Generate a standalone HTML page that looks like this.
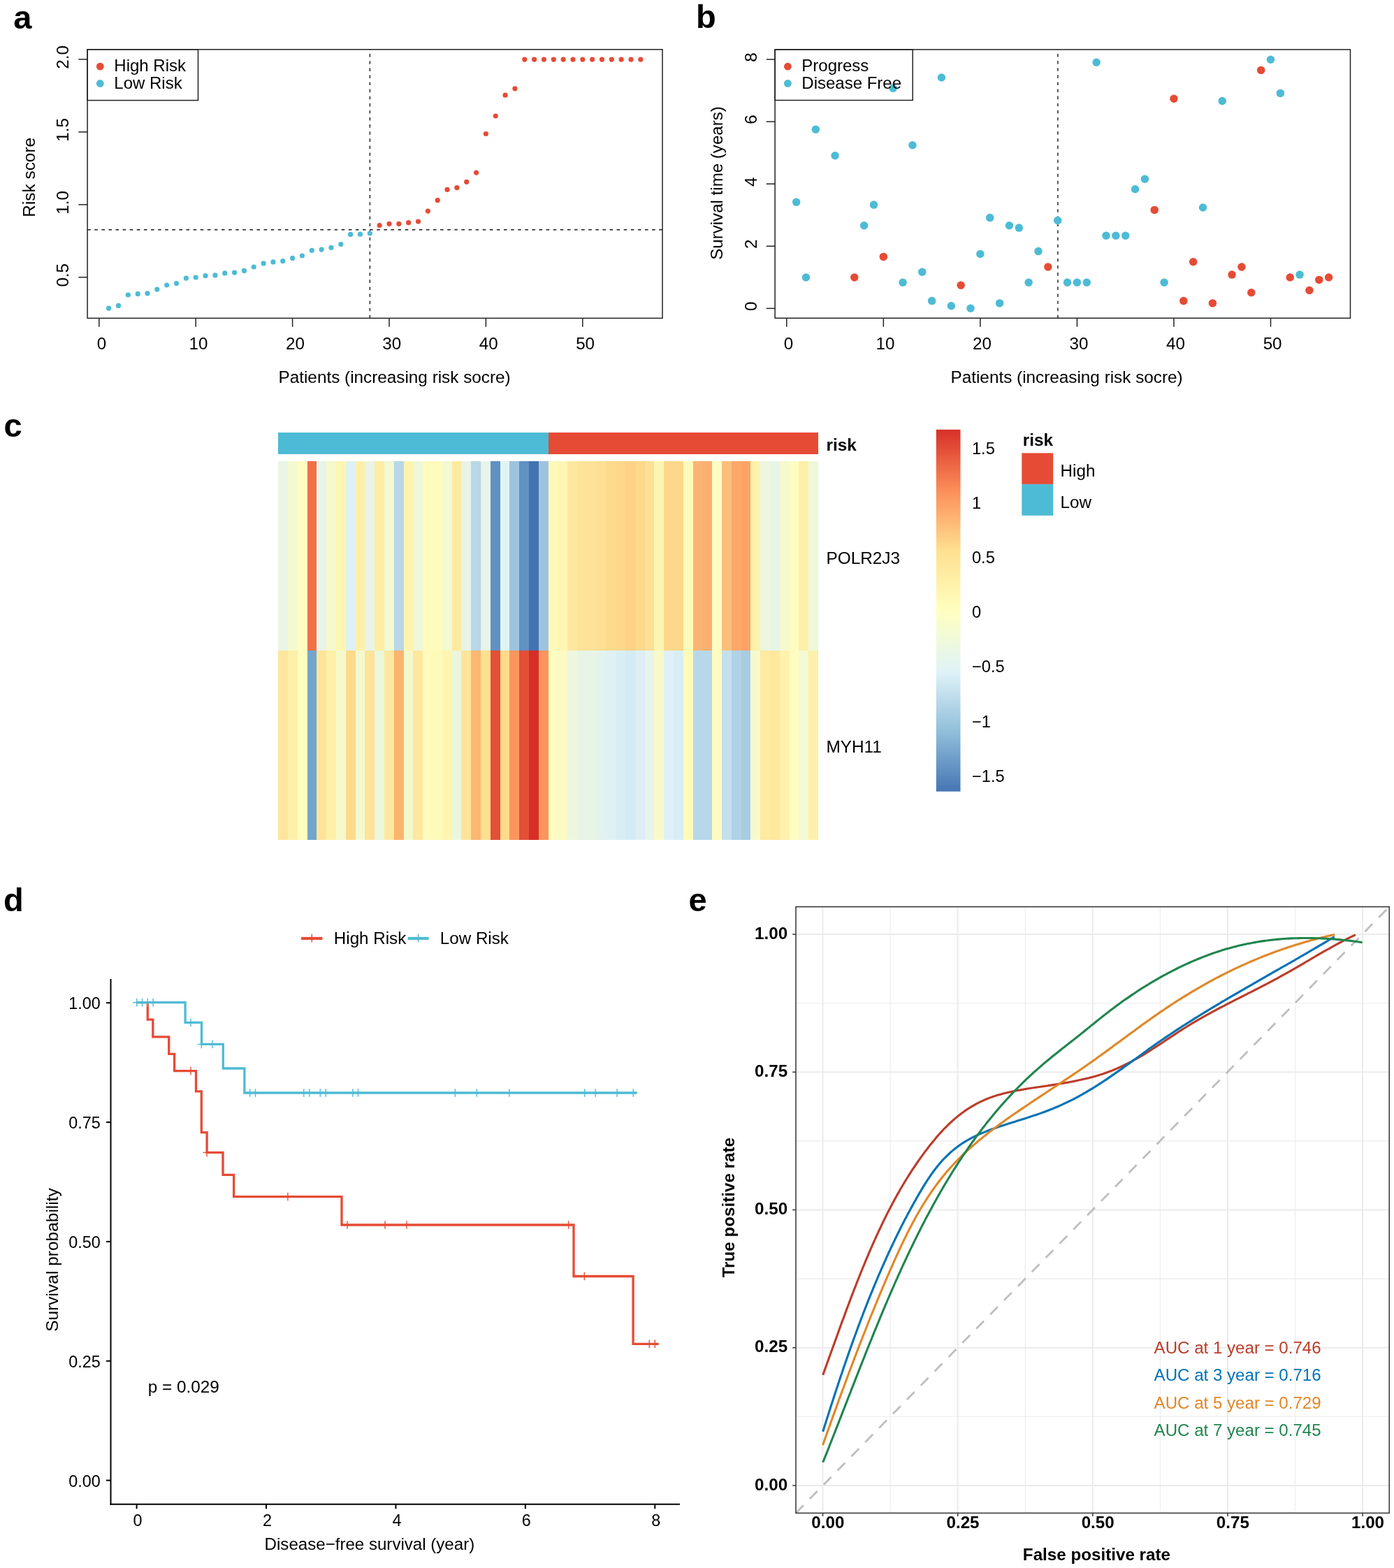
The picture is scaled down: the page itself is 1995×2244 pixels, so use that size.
<!DOCTYPE html>
<html lang="en"><head><meta charset="utf-8"><title>Figure</title>
<style>
html,body{margin:0;padding:0;background:#fff;}
body{width:1995px;height:2244px;overflow:hidden;}
svg{display:block;font-family:'Liberation Sans', Arial, Helvetica, sans-serif;}

</style></head>
<body>
<svg width="1995" height="2244" viewBox="0 0 1995 2244">
<rect width="1995" height="2244" fill="#fff"/>
<text x="19.2" y="40.5" font-size="47" font-weight="bold">a</text>
<text x="995.9" y="40.4" font-size="47" font-weight="bold">b</text>
<text x="5.5" y="625.3" font-size="47" font-weight="bold">c</text>
<text x="5" y="1303.6" font-size="47" font-weight="bold">d</text>
<text x="985.5" y="1304.2" font-size="47" font-weight="bold">e</text>
<g id="pa">
<line x1="125.1" y1="328.8" x2="948" y2="328.8" stroke="#1a1a1a" stroke-width="1.4" stroke-dasharray="4.6 5.5"/>
<line x1="529.4" y1="455.4" x2="529.4" y2="70.8" stroke="#1a1a1a" stroke-width="1.4" stroke-dasharray="4.6 5.5"/>
<circle cx="155.64" cy="441.2" r="3.6" fill="#4DBBD5"/>
<circle cx="169.48" cy="437.4" r="3.6" fill="#4DBBD5"/>
<circle cx="183.32" cy="422" r="3.6" fill="#4DBBD5"/>
<circle cx="197.16" cy="420.6" r="3.6" fill="#4DBBD5"/>
<circle cx="211" cy="419.8" r="3.6" fill="#4DBBD5"/>
<circle cx="224.84" cy="414.1" r="3.6" fill="#4DBBD5"/>
<circle cx="238.68" cy="408" r="3.6" fill="#4DBBD5"/>
<circle cx="252.52" cy="405.6" r="3.6" fill="#4DBBD5"/>
<circle cx="266.36" cy="398.2" r="3.6" fill="#4DBBD5"/>
<circle cx="280.2" cy="397" r="3.6" fill="#4DBBD5"/>
<circle cx="294.04" cy="394.7" r="3.6" fill="#4DBBD5"/>
<circle cx="307.88" cy="393.9" r="3.6" fill="#4DBBD5"/>
<circle cx="321.72" cy="390.9" r="3.6" fill="#4DBBD5"/>
<circle cx="335.56" cy="390.1" r="3.6" fill="#4DBBD5"/>
<circle cx="349.4" cy="387.4" r="3.6" fill="#4DBBD5"/>
<circle cx="363.24" cy="382" r="3.6" fill="#4DBBD5"/>
<circle cx="377.08" cy="376.9" r="3.6" fill="#4DBBD5"/>
<circle cx="390.92" cy="374.9" r="3.6" fill="#4DBBD5"/>
<circle cx="404.76" cy="373.6" r="3.6" fill="#4DBBD5"/>
<circle cx="418.6" cy="369.4" r="3.6" fill="#4DBBD5"/>
<circle cx="432.44" cy="366" r="3.6" fill="#4DBBD5"/>
<circle cx="446.28" cy="358.3" r="3.6" fill="#4DBBD5"/>
<circle cx="460.12" cy="357.1" r="3.6" fill="#4DBBD5"/>
<circle cx="473.96" cy="354.3" r="3.6" fill="#4DBBD5"/>
<circle cx="487.8" cy="349.6" r="3.6" fill="#4DBBD5"/>
<circle cx="501.64" cy="335.4" r="3.6" fill="#4DBBD5"/>
<circle cx="515.48" cy="335.2" r="3.6" fill="#4DBBD5"/>
<circle cx="529.32" cy="334" r="3.6" fill="#4DBBD5"/>
<circle cx="543.16" cy="322.5" r="3.6" fill="#E64B35"/>
<circle cx="557" cy="320.3" r="3.6" fill="#E64B35"/>
<circle cx="570.84" cy="320.3" r="3.6" fill="#E64B35"/>
<circle cx="584.68" cy="318.7" r="3.6" fill="#E64B35"/>
<circle cx="598.52" cy="317" r="3.6" fill="#E64B35"/>
<circle cx="612.36" cy="302.1" r="3.6" fill="#E64B35"/>
<circle cx="626.2" cy="286.7" r="3.6" fill="#E64B35"/>
<circle cx="640.04" cy="271.3" r="3.6" fill="#E64B35"/>
<circle cx="653.88" cy="268.6" r="3.6" fill="#E64B35"/>
<circle cx="667.72" cy="260.3" r="3.6" fill="#E64B35"/>
<circle cx="681.56" cy="247.1" r="3.6" fill="#E64B35"/>
<circle cx="695.4" cy="191.5" r="3.6" fill="#E64B35"/>
<circle cx="709.24" cy="166" r="3.6" fill="#E64B35"/>
<circle cx="723.08" cy="136.2" r="3.6" fill="#E64B35"/>
<circle cx="736.92" cy="126.8" r="3.6" fill="#E64B35"/>
<circle cx="750.76" cy="85.1" r="3.6" fill="#E64B35"/>
<circle cx="764.6" cy="85.1" r="3.6" fill="#E64B35"/>
<circle cx="778.44" cy="85.1" r="3.6" fill="#E64B35"/>
<circle cx="792.28" cy="85.1" r="3.6" fill="#E64B35"/>
<circle cx="806.12" cy="85.1" r="3.6" fill="#E64B35"/>
<circle cx="819.96" cy="85.1" r="3.6" fill="#E64B35"/>
<circle cx="833.8" cy="85.1" r="3.6" fill="#E64B35"/>
<circle cx="847.64" cy="85.1" r="3.6" fill="#E64B35"/>
<circle cx="861.48" cy="85.1" r="3.6" fill="#E64B35"/>
<circle cx="875.32" cy="85.1" r="3.6" fill="#E64B35"/>
<circle cx="889.16" cy="85.1" r="3.6" fill="#E64B35"/>
<circle cx="903" cy="85.1" r="3.6" fill="#E64B35"/>
<circle cx="916.84" cy="85.1" r="3.6" fill="#E64B35"/>
<rect x="125.1" y="70.8" width="158.4" height="72.8" fill="#fff" stroke="#222" stroke-width="1.5"/>
<circle cx="143.3" cy="95.1" r="5.4" fill="#E64B35"/>
<circle cx="143.3" cy="119.5" r="5.4" fill="#4DBBD5"/>
<text x="163.3" y="102.4" font-size="24">High Risk</text>
<text x="163.3" y="126.8" font-size="24">Low Risk</text>
<rect x="125.1" y="70.8" width="822.9" height="384.6" fill="none" stroke="#222" stroke-width="1.5"/>
<line x1="141.8" y1="455.4" x2="141.8" y2="467.8" stroke="#222" stroke-width="1.5"/>
<text x="145.6" y="499.6" font-size="24.2" text-anchor="middle">0</text>
<line x1="280.2" y1="455.4" x2="280.2" y2="467.8" stroke="#222" stroke-width="1.5"/>
<text x="284" y="499.6" font-size="24.2" text-anchor="middle">10</text>
<line x1="418.6" y1="455.4" x2="418.6" y2="467.8" stroke="#222" stroke-width="1.5"/>
<text x="422.4" y="499.6" font-size="24.2" text-anchor="middle">20</text>
<line x1="557" y1="455.4" x2="557" y2="467.8" stroke="#222" stroke-width="1.5"/>
<text x="560.8" y="499.6" font-size="24.2" text-anchor="middle">30</text>
<line x1="695.4" y1="455.4" x2="695.4" y2="467.8" stroke="#222" stroke-width="1.5"/>
<text x="699.2" y="499.6" font-size="24.2" text-anchor="middle">40</text>
<line x1="833.8" y1="455.4" x2="833.8" y2="467.8" stroke="#222" stroke-width="1.5"/>
<text x="837.6" y="499.6" font-size="24.2" text-anchor="middle">50</text>
<line x1="112.3" y1="396.79" x2="125.1" y2="396.79" stroke="#222" stroke-width="1.5"/>
<text transform="translate(97.7 393.79) rotate(-90)" font-size="24.2" text-anchor="middle">0.5</text>
<line x1="112.3" y1="292.83" x2="125.1" y2="292.83" stroke="#222" stroke-width="1.5"/>
<text transform="translate(97.7 289.83) rotate(-90)" font-size="24.2" text-anchor="middle">1.0</text>
<line x1="112.3" y1="188.87" x2="125.1" y2="188.87" stroke="#222" stroke-width="1.5"/>
<text transform="translate(97.7 185.87) rotate(-90)" font-size="24.2" text-anchor="middle">1.5</text>
<line x1="112.3" y1="84.9" x2="125.1" y2="84.9" stroke="#222" stroke-width="1.5"/>
<text transform="translate(97.7 81.9) rotate(-90)" font-size="24.2" text-anchor="middle">2.0</text>
<text x="564.6" y="547.5" font-size="24.3" text-anchor="middle">Patients (increasing risk socre)</text>
<text transform="translate(49.6 253.8) rotate(-90)" font-size="24.4" text-anchor="middle">Risk score</text>
</g>
<g id="pb">
<line x1="1513.9" y1="455.3" x2="1513.9" y2="70.9" stroke="#1a1a1a" stroke-width="1.4" stroke-dasharray="4.6 5.5"/>
<circle cx="1139.65" cy="289.2" r="5.75" fill="#4DBBD5"/>
<circle cx="1153.51" cy="397" r="5.75" fill="#4DBBD5"/>
<circle cx="1167.36" cy="185.3" r="5.75" fill="#4DBBD5"/>
<circle cx="1195.07" cy="222.7" r="5.75" fill="#4DBBD5"/>
<circle cx="1222.78" cy="397" r="5.75" fill="#E64B35"/>
<circle cx="1236.63" cy="322.7" r="5.75" fill="#4DBBD5"/>
<circle cx="1250.49" cy="293.1" r="5.75" fill="#4DBBD5"/>
<circle cx="1264.34" cy="367.4" r="5.75" fill="#E64B35"/>
<circle cx="1292.05" cy="404.3" r="5.75" fill="#4DBBD5"/>
<circle cx="1305.9" cy="207.7" r="5.75" fill="#4DBBD5"/>
<circle cx="1319.76" cy="389.2" r="5.75" fill="#4DBBD5"/>
<circle cx="1333.61" cy="430.6" r="5.75" fill="#4DBBD5"/>
<circle cx="1347.46" cy="111" r="5.75" fill="#4DBBD5"/>
<circle cx="1361.32" cy="437.8" r="5.75" fill="#4DBBD5"/>
<circle cx="1375.17" cy="408.2" r="5.75" fill="#E64B35"/>
<circle cx="1389.03" cy="441.2" r="5.75" fill="#4DBBD5"/>
<circle cx="1402.88" cy="363.5" r="5.75" fill="#4DBBD5"/>
<circle cx="1416.73" cy="311.6" r="5.75" fill="#4DBBD5"/>
<circle cx="1430.59" cy="433.9" r="5.75" fill="#4DBBD5"/>
<circle cx="1444.44" cy="322.7" r="5.75" fill="#4DBBD5"/>
<circle cx="1458.3" cy="326.1" r="5.75" fill="#4DBBD5"/>
<circle cx="1472.15" cy="404.3" r="5.75" fill="#4DBBD5"/>
<circle cx="1486" cy="359.6" r="5.75" fill="#4DBBD5"/>
<circle cx="1499.86" cy="382" r="5.75" fill="#E64B35"/>
<circle cx="1513.71" cy="315.5" r="5.75" fill="#4DBBD5"/>
<circle cx="1527.57" cy="404.3" r="5.75" fill="#4DBBD5"/>
<circle cx="1541.42" cy="404.3" r="5.75" fill="#4DBBD5"/>
<circle cx="1555.27" cy="404.3" r="5.75" fill="#4DBBD5"/>
<circle cx="1569.13" cy="89.2" r="5.75" fill="#4DBBD5"/>
<circle cx="1582.98" cy="337.3" r="5.75" fill="#4DBBD5"/>
<circle cx="1596.84" cy="337.3" r="5.75" fill="#4DBBD5"/>
<circle cx="1610.69" cy="337.3" r="5.75" fill="#4DBBD5"/>
<circle cx="1624.54" cy="270.8" r="5.75" fill="#4DBBD5"/>
<circle cx="1638.4" cy="256.3" r="5.75" fill="#4DBBD5"/>
<circle cx="1652.25" cy="300.4" r="5.75" fill="#E64B35"/>
<circle cx="1666.11" cy="404.3" r="5.75" fill="#4DBBD5"/>
<circle cx="1679.96" cy="141.2" r="5.75" fill="#E64B35"/>
<circle cx="1693.81" cy="430.6" r="5.75" fill="#E64B35"/>
<circle cx="1707.67" cy="374.7" r="5.75" fill="#E64B35"/>
<circle cx="1721.52" cy="297" r="5.75" fill="#4DBBD5"/>
<circle cx="1735.38" cy="433.9" r="5.75" fill="#E64B35"/>
<circle cx="1749.23" cy="144.5" r="5.75" fill="#4DBBD5"/>
<circle cx="1763.08" cy="393.1" r="5.75" fill="#E64B35"/>
<circle cx="1776.94" cy="382" r="5.75" fill="#E64B35"/>
<circle cx="1790.79" cy="418.8" r="5.75" fill="#E64B35"/>
<circle cx="1804.65" cy="100.4" r="5.75" fill="#E64B35"/>
<circle cx="1818.5" cy="85.3" r="5.75" fill="#4DBBD5"/>
<circle cx="1832.35" cy="133.4" r="5.75" fill="#4DBBD5"/>
<circle cx="1846.21" cy="397" r="5.75" fill="#E64B35"/>
<circle cx="1860.06" cy="393.1" r="5.75" fill="#4DBBD5"/>
<circle cx="1873.92" cy="415.5" r="5.75" fill="#E64B35"/>
<circle cx="1887.77" cy="400.4" r="5.75" fill="#E64B35"/>
<circle cx="1901.62" cy="397" r="5.75" fill="#E64B35"/>
<rect x="1109.1" y="70.9" width="197.1" height="72.6" fill="#fff" stroke="#222" stroke-width="1.5"/>
<circle cx="1278.19" cy="126.2" r="5.75" fill="#4DBBD5"/>
<circle cx="1127.4" cy="95.2" r="5.4" fill="#E64B35"/>
<circle cx="1127.4" cy="119.4" r="5.4" fill="#4DBBD5"/>
<text x="1147.3" y="102.4" font-size="24">Progress</text>
<text x="1147.3" y="126.6" font-size="24">Disease Free</text>
<rect x="1109.1" y="70.9" width="823.4" height="384.4" fill="none" stroke="#222" stroke-width="1.5"/>
<line x1="1125.8" y1="455.3" x2="1125.8" y2="467.7" stroke="#222" stroke-width="1.5"/>
<text x="1128.4" y="499.6" font-size="24.2" text-anchor="middle">0</text>
<line x1="1264.34" y1="455.3" x2="1264.34" y2="467.7" stroke="#222" stroke-width="1.5"/>
<text x="1266.94" y="499.6" font-size="24.2" text-anchor="middle">10</text>
<line x1="1402.88" y1="455.3" x2="1402.88" y2="467.7" stroke="#222" stroke-width="1.5"/>
<text x="1405.48" y="499.6" font-size="24.2" text-anchor="middle">20</text>
<line x1="1541.42" y1="455.3" x2="1541.42" y2="467.7" stroke="#222" stroke-width="1.5"/>
<text x="1544.02" y="499.6" font-size="24.2" text-anchor="middle">30</text>
<line x1="1679.96" y1="455.3" x2="1679.96" y2="467.7" stroke="#222" stroke-width="1.5"/>
<text x="1682.56" y="499.6" font-size="24.2" text-anchor="middle">40</text>
<line x1="1818.5" y1="455.3" x2="1818.5" y2="467.7" stroke="#222" stroke-width="1.5"/>
<text x="1821.1" y="499.6" font-size="24.2" text-anchor="middle">50</text>
<line x1="1096.7" y1="441.4" x2="1109.1" y2="441.4" stroke="#222" stroke-width="1.5"/>
<text transform="translate(1082.8 438.4) rotate(-90)" font-size="24.2" text-anchor="middle">0</text>
<line x1="1096.7" y1="352.3" x2="1109.1" y2="352.3" stroke="#222" stroke-width="1.5"/>
<text transform="translate(1082.8 349.3) rotate(-90)" font-size="24.2" text-anchor="middle">2</text>
<line x1="1096.7" y1="263.2" x2="1109.1" y2="263.2" stroke="#222" stroke-width="1.5"/>
<text transform="translate(1082.8 260.2) rotate(-90)" font-size="24.2" text-anchor="middle">4</text>
<line x1="1096.7" y1="174.1" x2="1109.1" y2="174.1" stroke="#222" stroke-width="1.5"/>
<text transform="translate(1082.8 171.1) rotate(-90)" font-size="24.2" text-anchor="middle">6</text>
<line x1="1096.7" y1="85" x2="1109.1" y2="85" stroke="#222" stroke-width="1.5"/>
<text transform="translate(1082.8 82) rotate(-90)" font-size="24.2" text-anchor="middle">8</text>
<text x="1526.6" y="547.5" font-size="24.3" text-anchor="middle">Patients (increasing risk socre)</text>
<text transform="translate(1033.5 262) rotate(-90)" font-size="24.1" text-anchor="middle">Survival time (years)</text>
</g>
<g id="pc" shape-rendering="crispEdges">
<rect x="398.1" y="618.5" width="386.45" height="31.2" fill="#4DBBD5"/>
<rect x="784.55" y="618.5" width="386.45" height="31.2" fill="#E64B35"/>
<rect x="398.1" y="660" width="14.2" height="270.7" fill="#EAF5E6"/>
<rect x="398.1" y="930.7" width="14.2" height="270.8" fill="#FDE59C"/>
<rect x="411.9" y="660" width="14.2" height="270.7" fill="#F5F9D0"/>
<rect x="411.9" y="930.7" width="14.2" height="270.8" fill="#FEF0A8"/>
<rect x="425.7" y="660" width="14.2" height="270.7" fill="#FEFCC0"/>
<rect x="425.7" y="930.7" width="14.2" height="270.8" fill="#FFFCBD"/>
<rect x="439.51" y="660" width="14.2" height="270.7" fill="#F07049"/>
<rect x="439.51" y="930.7" width="14.2" height="270.8" fill="#74A5CD"/>
<rect x="453.31" y="660" width="14.2" height="270.7" fill="#E8F4E8"/>
<rect x="453.31" y="930.7" width="14.2" height="270.8" fill="#FEE49A"/>
<rect x="467.11" y="660" width="14.2" height="270.7" fill="#F5F9CC"/>
<rect x="467.11" y="930.7" width="14.2" height="270.8" fill="#FEF0A8"/>
<rect x="480.91" y="660" width="14.2" height="270.7" fill="#FEF5B0"/>
<rect x="480.91" y="930.7" width="14.2" height="270.8" fill="#F5F9CC"/>
<rect x="494.71" y="660" width="14.2" height="270.7" fill="#DFF1F6"/>
<rect x="494.71" y="930.7" width="14.2" height="270.8" fill="#FEDB8A"/>
<rect x="508.51" y="660" width="14.2" height="270.7" fill="#FEF0A8"/>
<rect x="508.51" y="930.7" width="14.2" height="270.8" fill="#F3F9D0"/>
<rect x="522.32" y="660" width="14.2" height="270.7" fill="#E8F4E8"/>
<rect x="522.32" y="930.7" width="14.2" height="270.8" fill="#FEE39A"/>
<rect x="536.12" y="660" width="14.2" height="270.7" fill="#FEEEA4"/>
<rect x="536.12" y="930.7" width="14.2" height="270.8" fill="#ECF6DA"/>
<rect x="549.92" y="660" width="14.2" height="270.7" fill="#F3F9D2"/>
<rect x="549.92" y="930.7" width="14.2" height="270.8" fill="#FEE89F"/>
<rect x="563.72" y="660" width="14.2" height="270.7" fill="#B8D7E8"/>
<rect x="563.72" y="930.7" width="14.2" height="270.8" fill="#FBB46E"/>
<rect x="577.52" y="660" width="14.2" height="270.7" fill="#FEF4AE"/>
<rect x="577.52" y="930.7" width="14.2" height="270.8" fill="#F3F9CC"/>
<rect x="591.33" y="660" width="14.2" height="270.7" fill="#EFF6DA"/>
<rect x="591.33" y="930.7" width="14.2" height="270.8" fill="#FEE89F"/>
<rect x="605.13" y="660" width="14.2" height="270.7" fill="#FEFBBC"/>
<rect x="605.13" y="930.7" width="14.2" height="270.8" fill="#FEFBBC"/>
<rect x="618.93" y="660" width="14.2" height="270.7" fill="#FEFBBC"/>
<rect x="618.93" y="930.7" width="14.2" height="270.8" fill="#FEFABA"/>
<rect x="632.73" y="660" width="14.2" height="270.7" fill="#F3F9D0"/>
<rect x="632.73" y="930.7" width="14.2" height="270.8" fill="#FEF5B0"/>
<rect x="646.53" y="660" width="14.2" height="270.7" fill="#FEEA9F"/>
<rect x="646.53" y="930.7" width="14.2" height="270.8" fill="#ECF6DC"/>
<rect x="660.33" y="660" width="14.2" height="270.7" fill="#E8F4E8"/>
<rect x="660.33" y="930.7" width="14.2" height="270.8" fill="#FEE49A"/>
<rect x="674.14" y="660" width="14.2" height="270.7" fill="#B8D7E8"/>
<rect x="674.14" y="930.7" width="14.2" height="270.8" fill="#FBB773"/>
<rect x="687.94" y="660" width="14.2" height="270.7" fill="#E8F4E8"/>
<rect x="687.94" y="930.7" width="14.2" height="270.8" fill="#FEE090"/>
<rect x="701.74" y="660" width="14.2" height="270.7" fill="#6190C2"/>
<rect x="701.74" y="930.7" width="14.2" height="270.8" fill="#E34F37"/>
<rect x="715.54" y="660" width="14.2" height="270.7" fill="#E0F3F4"/>
<rect x="715.54" y="930.7" width="14.2" height="270.8" fill="#FEDB8A"/>
<rect x="729.34" y="660" width="14.2" height="270.7" fill="#9DC4DF"/>
<rect x="729.34" y="930.7" width="14.2" height="270.8" fill="#FB955E"/>
<rect x="743.14" y="660" width="14.2" height="270.7" fill="#6190C2"/>
<rect x="743.14" y="930.7" width="14.2" height="270.8" fill="#E34F37"/>
<rect x="756.95" y="660" width="14.2" height="270.7" fill="#4473B2"/>
<rect x="756.95" y="930.7" width="14.2" height="270.8" fill="#D62F27"/>
<rect x="770.75" y="660" width="14.2" height="270.7" fill="#9DC4DF"/>
<rect x="770.75" y="930.7" width="14.2" height="270.8" fill="#FB955E"/>
<rect x="784.55" y="660" width="14.2" height="270.7" fill="#FEF9BA"/>
<rect x="784.55" y="930.7" width="14.2" height="270.8" fill="#FEFBC0"/>
<rect x="798.35" y="660" width="14.2" height="270.7" fill="#FEF5B2"/>
<rect x="798.35" y="930.7" width="14.2" height="270.8" fill="#FBF9C4"/>
<rect x="812.15" y="660" width="14.2" height="270.7" fill="#FEE8A0"/>
<rect x="812.15" y="930.7" width="14.2" height="270.8" fill="#EEF6DE"/>
<rect x="825.96" y="660" width="14.2" height="270.7" fill="#FEE298"/>
<rect x="825.96" y="930.7" width="14.2" height="270.8" fill="#E8F4E6"/>
<rect x="839.76" y="660" width="14.2" height="270.7" fill="#FEE298"/>
<rect x="839.76" y="930.7" width="14.2" height="270.8" fill="#E8F4E6"/>
<rect x="853.56" y="660" width="14.2" height="270.7" fill="#FEDF94"/>
<rect x="853.56" y="930.7" width="14.2" height="270.8" fill="#E2F2EE"/>
<rect x="867.36" y="660" width="14.2" height="270.7" fill="#FDDA8C"/>
<rect x="867.36" y="930.7" width="14.2" height="270.8" fill="#DFF1F5"/>
<rect x="881.16" y="660" width="14.2" height="270.7" fill="#FDD78A"/>
<rect x="881.16" y="930.7" width="14.2" height="270.8" fill="#D8EEF4"/>
<rect x="894.96" y="660" width="14.2" height="270.7" fill="#FCD386"/>
<rect x="894.96" y="930.7" width="14.2" height="270.8" fill="#D4EBF3"/>
<rect x="908.77" y="660" width="14.2" height="270.7" fill="#FDD98C"/>
<rect x="908.77" y="930.7" width="14.2" height="270.8" fill="#DDEFF5"/>
<rect x="922.57" y="660" width="14.2" height="270.7" fill="#FEDF94"/>
<rect x="922.57" y="930.7" width="14.2" height="270.8" fill="#E6F4EB"/>
<rect x="936.37" y="660" width="14.2" height="270.7" fill="#FCF5B2"/>
<rect x="936.37" y="930.7" width="14.2" height="270.8" fill="#F8F9C8"/>
<rect x="950.17" y="660" width="14.2" height="270.7" fill="#FDD88A"/>
<rect x="950.17" y="930.7" width="14.2" height="270.8" fill="#DFF1F6"/>
<rect x="963.97" y="660" width="14.2" height="270.7" fill="#FDD88A"/>
<rect x="963.97" y="930.7" width="14.2" height="270.8" fill="#D8EEF4"/>
<rect x="977.77" y="660" width="14.2" height="270.7" fill="#FEFABA"/>
<rect x="977.77" y="930.7" width="14.2" height="270.8" fill="#FEFABA"/>
<rect x="991.58" y="660" width="14.2" height="270.7" fill="#FBB473"/>
<rect x="991.58" y="930.7" width="14.2" height="270.8" fill="#B8D7E9"/>
<rect x="1005.38" y="660" width="14.2" height="270.7" fill="#FBB070"/>
<rect x="1005.38" y="930.7" width="14.2" height="270.8" fill="#B8D7E9"/>
<rect x="1019.18" y="660" width="14.2" height="270.7" fill="#FEFCC0"/>
<rect x="1019.18" y="930.7" width="14.2" height="270.8" fill="#FEFCC0"/>
<rect x="1032.98" y="660" width="14.2" height="270.7" fill="#FCBE7A"/>
<rect x="1032.98" y="930.7" width="14.2" height="270.8" fill="#C4E0EC"/>
<rect x="1046.78" y="660" width="14.2" height="270.7" fill="#FBA86A"/>
<rect x="1046.78" y="930.7" width="14.2" height="270.8" fill="#AFD2E6"/>
<rect x="1060.59" y="660" width="14.2" height="270.7" fill="#FBA365"/>
<rect x="1060.59" y="930.7" width="14.2" height="270.8" fill="#A8CCE2"/>
<rect x="1074.39" y="660" width="14.2" height="270.7" fill="#FEF2AA"/>
<rect x="1074.39" y="930.7" width="14.2" height="270.8" fill="#F6F9CC"/>
<rect x="1088.19" y="660" width="14.2" height="270.7" fill="#EDF6E0"/>
<rect x="1088.19" y="930.7" width="14.2" height="270.8" fill="#FEEAA0"/>
<rect x="1101.99" y="660" width="14.2" height="270.7" fill="#E8F4E6"/>
<rect x="1101.99" y="930.7" width="14.2" height="270.8" fill="#FEE89C"/>
<rect x="1115.79" y="660" width="14.2" height="270.7" fill="#F5F9D0"/>
<rect x="1115.79" y="930.7" width="14.2" height="270.8" fill="#FEF2AE"/>
<rect x="1129.59" y="660" width="14.2" height="270.7" fill="#FEFCC0"/>
<rect x="1129.59" y="930.7" width="14.2" height="270.8" fill="#FEFCC0"/>
<rect x="1143.4" y="660" width="14.2" height="270.7" fill="#FEF0A8"/>
<rect x="1143.4" y="930.7" width="14.2" height="270.8" fill="#F3F9D2"/>
<rect x="1157.2" y="660" width="14.2" height="270.7" fill="#EFF7DA"/>
<rect x="1157.2" y="930.7" width="14.2" height="270.8" fill="#FEF0A8"/>
</g>
<text x="1182.6" y="645.1" font-size="24.3" font-weight="bold">risk</text>
<text x="1182.4" y="806.8" font-size="24.4">POLR2J3</text>
<text x="1182.4" y="1077.2" font-size="24.4">MYH11</text>
<defs><linearGradient id="cb" x1="0" y1="0" x2="0" y2="1"><stop offset="0" stop-color="#D73027"/><stop offset="0.1667" stop-color="#FC8D59"/><stop offset="0.3333" stop-color="#FEE090"/><stop offset="0.5" stop-color="#FFFFBF"/><stop offset="0.6667" stop-color="#E0F3F8"/><stop offset="0.8333" stop-color="#91BFDB"/><stop offset="1" stop-color="#4575B4"/></linearGradient></defs>
<rect x="1339.8" y="614.8" width="34.7" height="517.9" fill="url(#cb)"/>
<text x="1390.9" y="649.8" font-size="23.7">1.5</text>
<text x="1390.9" y="728.3" font-size="23.7">1</text>
<text x="1390.9" y="806.4" font-size="23.7">0.5</text>
<text x="1390.9" y="883.9" font-size="23.7">0</text>
<text x="1390.9" y="962.4" font-size="23.7">−0.5</text>
<text x="1390.9" y="1041.3" font-size="23.7">−1</text>
<text x="1390.9" y="1118.7" font-size="23.7">−1.5</text>
<text x="1463.7" y="637.9" font-size="24.3" font-weight="bold">risk</text>
<rect x="1462.3" y="648.4" width="44.9" height="44.5" fill="#E64B35"/>
<rect x="1462.3" y="692.9" width="44.9" height="44.9" fill="#4DBBD5"/>
<text x="1517.6" y="681.9" font-size="24.2">High</text>
<text x="1517.6" y="726.6" font-size="24.2">Low</text>
<g id="pd">
<line x1="158.5" y1="1401.1" x2="158.5" y2="2153.7" stroke="#000" stroke-width="2"/>
<line x1="157.5" y1="2152.7" x2="973" y2="2152.7" stroke="#000" stroke-width="2"/>
<line x1="152" y1="2118.6" x2="158.5" y2="2118.6" stroke="#000" stroke-width="2"/>
<text x="143.8" y="2127.5" font-size="23.4" text-anchor="end">0.00</text>
<line x1="152" y1="1947.75" x2="158.5" y2="1947.75" stroke="#000" stroke-width="2"/>
<text x="143.8" y="1956.65" font-size="23.4" text-anchor="end">0.25</text>
<line x1="152" y1="1776.9" x2="158.5" y2="1776.9" stroke="#000" stroke-width="2"/>
<text x="143.8" y="1785.8" font-size="23.4" text-anchor="end">0.50</text>
<line x1="152" y1="1606.05" x2="158.5" y2="1606.05" stroke="#000" stroke-width="2"/>
<text x="143.8" y="1614.95" font-size="23.4" text-anchor="end">0.75</text>
<line x1="152" y1="1435.2" x2="158.5" y2="1435.2" stroke="#000" stroke-width="2"/>
<text x="143.8" y="1444.1" font-size="23.4" text-anchor="end">1.00</text>
<line x1="195.6" y1="2152.7" x2="195.6" y2="2159.3" stroke="#000" stroke-width="2"/>
<text x="197.1" y="2183.5" font-size="23.4" text-anchor="middle">0</text>
<line x1="381.02" y1="2152.7" x2="381.02" y2="2159.3" stroke="#000" stroke-width="2"/>
<text x="382.52" y="2183.5" font-size="23.4" text-anchor="middle">2</text>
<line x1="566.44" y1="2152.7" x2="566.44" y2="2159.3" stroke="#000" stroke-width="2"/>
<text x="567.94" y="2183.5" font-size="23.4" text-anchor="middle">4</text>
<line x1="751.86" y1="2152.7" x2="751.86" y2="2159.3" stroke="#000" stroke-width="2"/>
<text x="753.36" y="2183.5" font-size="23.4" text-anchor="middle">6</text>
<line x1="937.28" y1="2152.7" x2="937.28" y2="2159.3" stroke="#000" stroke-width="2"/>
<text x="938.78" y="2183.5" font-size="23.4" text-anchor="middle">8</text>
<text x="528.9" y="2217.7" font-size="24.1" text-anchor="middle">Disease−free survival (year)</text>
<text transform="translate(83 1803) rotate(-90)" font-size="24.5" text-anchor="middle">Survival probability</text>
<text x="211.8" y="1992.8" font-size="24.3">p = 0.029</text>
<path d="M195.4,1434.7 H211.3 V1459.1 H218.8 V1483.8 H241.7 V1508.3 H249.6 V1532.6 H280.5 V1561.9 H288.3 V1620.6 H296.1 V1649.4 H319 V1681.3 H334.6 V1712.6 H489 V1753 H821 V1826.5 H906.1 V1923.4 H942.5" fill="none" stroke="#E64B35" stroke-width="3.3" stroke-linejoin="miter"/>
<path d="M195.4,1434.7 H265.1 V1463.3 H288.5 V1494.4 H319.3 V1529 H349.9 V1564 H911.6" fill="none" stroke="#4DBBD5" stroke-width="3.3" stroke-linejoin="miter"/>
<path d="M273,1526.8 V1538.4 M267.4,1532.6 H278.6" stroke="#E64B35" stroke-width="1.4" fill="none"/>
<path d="M296.1,1643.6 V1655.2 M290.5,1649.4 H301.7" stroke="#E64B35" stroke-width="1.4" fill="none"/>
<path d="M411.9,1706.8 V1718.4 M406.3,1712.6 H417.5" stroke="#E64B35" stroke-width="1.4" fill="none"/>
<path d="M497.1,1747.2 V1758.8 M491.5,1753 H502.7" stroke="#E64B35" stroke-width="1.4" fill="none"/>
<path d="M551,1747.2 V1758.8 M545.4,1753 H556.6" stroke="#E64B35" stroke-width="1.4" fill="none"/>
<path d="M581.9,1747.2 V1758.8 M576.3,1753 H587.5" stroke="#E64B35" stroke-width="1.4" fill="none"/>
<path d="M813.6,1747.2 V1758.8 M808,1753 H819.2" stroke="#E64B35" stroke-width="1.4" fill="none"/>
<path d="M836.3,1820.7 V1832.3 M830.7,1826.5 H841.9" stroke="#E64B35" stroke-width="1.4" fill="none"/>
<path d="M929.3,1917.6 V1929.2 M923.7,1923.4 H934.9" stroke="#E64B35" stroke-width="1.4" fill="none"/>
<path d="M937.3,1917.6 V1929.2 M931.7,1923.4 H942.9" stroke="#E64B35" stroke-width="1.4" fill="none"/>
<path d="M195.7,1428.9 V1440.5 M190.1,1434.7 H201.3" stroke="#4DBBD5" stroke-width="1.4" fill="none"/>
<path d="M203.5,1428.9 V1440.5 M197.9,1434.7 H209.1" stroke="#4DBBD5" stroke-width="1.4" fill="none"/>
<path d="M211.3,1428.9 V1440.5 M205.7,1434.7 H216.9" stroke="#4DBBD5" stroke-width="1.4" fill="none"/>
<path d="M219.1,1428.9 V1440.5 M213.5,1434.7 H224.7" stroke="#4DBBD5" stroke-width="1.4" fill="none"/>
<path d="M273,1457.5 V1469.1 M267.4,1463.3 H278.6" stroke="#4DBBD5" stroke-width="1.4" fill="none"/>
<path d="M288.2,1488.6 V1500.2 M282.6,1494.4 H293.8" stroke="#4DBBD5" stroke-width="1.4" fill="none"/>
<path d="M303.9,1488.6 V1500.2 M298.3,1494.4 H309.5" stroke="#4DBBD5" stroke-width="1.4" fill="none"/>
<path d="M357.7,1558.2 V1569.8 M352.1,1564 H363.3" stroke="#4DBBD5" stroke-width="1.4" fill="none"/>
<path d="M365.5,1558.2 V1569.8 M359.9,1564 H371.1" stroke="#4DBBD5" stroke-width="1.4" fill="none"/>
<path d="M434.8,1558.2 V1569.8 M429.2,1564 H440.4" stroke="#4DBBD5" stroke-width="1.4" fill="none"/>
<path d="M442.7,1558.2 V1569.8 M437.1,1564 H448.3" stroke="#4DBBD5" stroke-width="1.4" fill="none"/>
<path d="M458.3,1558.2 V1569.8 M452.7,1564 H463.9" stroke="#4DBBD5" stroke-width="1.4" fill="none"/>
<path d="M466.2,1558.2 V1569.8 M460.6,1564 H471.8" stroke="#4DBBD5" stroke-width="1.4" fill="none"/>
<path d="M504.9,1558.2 V1569.8 M499.3,1564 H510.5" stroke="#4DBBD5" stroke-width="1.4" fill="none"/>
<path d="M512.4,1558.2 V1569.8 M506.8,1564 H518" stroke="#4DBBD5" stroke-width="1.4" fill="none"/>
<path d="M651.4,1558.2 V1569.8 M645.8,1564 H657" stroke="#4DBBD5" stroke-width="1.4" fill="none"/>
<path d="M682.3,1558.2 V1569.8 M676.7,1564 H687.9" stroke="#4DBBD5" stroke-width="1.4" fill="none"/>
<path d="M728.8,1558.2 V1569.8 M723.2,1564 H734.4" stroke="#4DBBD5" stroke-width="1.4" fill="none"/>
<path d="M836.8,1558.2 V1569.8 M831.2,1564 H842.4" stroke="#4DBBD5" stroke-width="1.4" fill="none"/>
<path d="M852.2,1558.2 V1569.8 M846.6,1564 H857.8" stroke="#4DBBD5" stroke-width="1.4" fill="none"/>
<path d="M883.1,1558.2 V1569.8 M877.5,1564 H888.7" stroke="#4DBBD5" stroke-width="1.4" fill="none"/>
<path d="M906.3,1558.2 V1569.8 M900.7,1564 H911.9" stroke="#4DBBD5" stroke-width="1.4" fill="none"/>
<line x1="431.1" y1="1343" x2="461.4" y2="1343" stroke="#E64B35" stroke-width="4.2"/>
<line x1="446.3" y1="1336.7" x2="446.3" y2="1348.3" stroke="#E64B35" stroke-width="1.5"/>
<line x1="583.7" y1="1343" x2="613.6" y2="1343" stroke="#4DBBD5" stroke-width="4.2"/>
<line x1="598.5" y1="1336.7" x2="598.5" y2="1348.3" stroke="#4DBBD5" stroke-width="1.5"/>
<text x="477.8" y="1351.1" font-size="24.2">High Risk</text>
<text x="629.8" y="1351.1" font-size="24.2">Low Risk</text>
</g>
<g id="pe">
<clipPath id="ce"><rect x="1139" y="1297.7" width="849.2" height="867.7"/></clipPath>
<line x1="1274.08" y1="1297.7" x2="1274.08" y2="2165.4" stroke="#EBEBEB" stroke-width="1.1"/>
<line x1="1139" y1="2027.3" x2="1988.2" y2="2027.3" stroke="#EBEBEB" stroke-width="1.1"/>
<line x1="1467.22" y1="1297.7" x2="1467.22" y2="2165.4" stroke="#EBEBEB" stroke-width="1.1"/>
<line x1="1139" y1="1830.1" x2="1988.2" y2="1830.1" stroke="#EBEBEB" stroke-width="1.1"/>
<line x1="1660.38" y1="1297.7" x2="1660.38" y2="2165.4" stroke="#EBEBEB" stroke-width="1.1"/>
<line x1="1139" y1="1632.9" x2="1988.2" y2="1632.9" stroke="#EBEBEB" stroke-width="1.1"/>
<line x1="1853.53" y1="1297.7" x2="1853.53" y2="2165.4" stroke="#EBEBEB" stroke-width="1.1"/>
<line x1="1139" y1="1435.7" x2="1988.2" y2="1435.7" stroke="#EBEBEB" stroke-width="1.1"/>
<line x1="1177.5" y1="1297.7" x2="1177.5" y2="2165.4" stroke="#EBEBEB" stroke-width="2"/>
<line x1="1139" y1="2125.9" x2="1988.2" y2="2125.9" stroke="#EBEBEB" stroke-width="2"/>
<line x1="1370.65" y1="1297.7" x2="1370.65" y2="2165.4" stroke="#EBEBEB" stroke-width="2"/>
<line x1="1139" y1="1928.7" x2="1988.2" y2="1928.7" stroke="#EBEBEB" stroke-width="2"/>
<line x1="1563.8" y1="1297.7" x2="1563.8" y2="2165.4" stroke="#EBEBEB" stroke-width="2"/>
<line x1="1139" y1="1731.5" x2="1988.2" y2="1731.5" stroke="#EBEBEB" stroke-width="2"/>
<line x1="1756.95" y1="1297.7" x2="1756.95" y2="2165.4" stroke="#EBEBEB" stroke-width="2"/>
<line x1="1139" y1="1534.3" x2="1988.2" y2="1534.3" stroke="#EBEBEB" stroke-width="2"/>
<line x1="1950.1" y1="1297.7" x2="1950.1" y2="2165.4" stroke="#EBEBEB" stroke-width="2"/>
<line x1="1139" y1="1337.1" x2="1988.2" y2="1337.1" stroke="#EBEBEB" stroke-width="2"/>
<line x1="1139" y1="2165.4" x2="1988.2" y2="1297.7" stroke="#BEBEBE" stroke-width="2.8" stroke-dasharray="15.5 12.9" clip-path="url(#ce)"/>
<path d="M1177.7,1967.7 L1178.9,1964.4 L1180.1,1961.1 L1181.3,1957.8 L1182.4,1954.5 L1183.6,1951.2 L1184.8,1947.9 L1186,1944.6 L1187.2,1941.3 L1188.4,1938 L1189.6,1934.7 L1190.7,1931.5 L1191.9,1928.2 L1193.1,1924.9 L1194.3,1921.6 L1195.5,1918.3 L1196.7,1915 L1197.9,1911.7 L1199.1,1908.4 L1200.3,1905.1 L1201.4,1901.8 L1202.6,1898.5 L1203.8,1895.2 L1205,1891.9 L1206.2,1888.7 L1207.5,1885.4 L1208.7,1882.1 L1209.9,1878.8 L1211.1,1875.5 L1212.3,1872.2 L1213.5,1869 L1214.8,1865.7 L1216,1862.4 L1217.2,1859.1 L1218.5,1855.8 L1219.7,1852.6 L1221,1849.3 L1222.2,1846 L1223.5,1842.8 L1224.8,1839.5 L1226,1836.2 L1227.3,1833 L1228.6,1829.7 L1229.9,1826.5 L1231.2,1823.2 L1232.5,1820 L1233.8,1816.7 L1235.1,1813.5 L1236.5,1810.3 L1237.8,1807 L1239.1,1803.8 L1240.5,1800.6 L1241.9,1797.3 L1243.2,1794.1 L1244.6,1790.9 L1246,1787.7 L1247.4,1784.5 L1248.8,1781.3 L1250.2,1778.1 L1251.7,1774.9 L1253.1,1771.7 L1254.6,1768.5 L1256,1765.3 L1257.5,1762.1 L1259,1759 L1260.5,1755.8 L1262,1752.6 L1263.5,1749.5 L1265,1746.3 L1266.6,1743.2 L1268.1,1740.1 L1269.7,1736.9 L1271.3,1733.8 L1272.9,1730.7 L1274.5,1727.6 L1276.2,1724.5 L1277.8,1721.4 L1279.5,1718.3 L1281.1,1715.3 L1282.8,1712.2 L1284.5,1709.1 L1286.3,1706.1 L1288,1703 L1289.7,1700 L1291.5,1697 L1293.3,1694 L1295.1,1691 L1296.9,1688 L1298.8,1685 L1300.6,1682.1 L1302.5,1679.1 L1304.4,1676.2 L1306.3,1673.2 L1308.3,1670.3 L1310.2,1667.4 L1312.2,1664.5 L1314.2,1661.6 L1316.2,1658.8 L1318.2,1655.9 L1320.3,1653.1 L1322.3,1650.3 L1324.4,1647.4 L1326.6,1644.7 L1328.7,1641.9 L1330.8,1639.1 L1333,1636.4 L1335.2,1633.7 L1337.5,1631 L1339.7,1628.3 L1342,1625.6 L1344.3,1623 L1346.7,1620.4 L1349,1617.8 L1351.4,1615.3 L1353.9,1612.8 L1356.4,1610.3 L1358.9,1607.9 L1361.5,1605.5 L1364.1,1603.2 L1366.7,1600.9 L1369.4,1598.6 L1372.1,1596.4 L1374.9,1594.3 L1377.7,1592.2 L1380.5,1590.1 L1383.4,1588.1 L1386.3,1586.2 L1389.3,1584.4 L1392.3,1582.6 L1395.3,1580.8 L1398.4,1579.2 L1401.5,1577.6 L1404.7,1576.1 L1407.9,1574.6 L1411.1,1573.2 L1414.3,1571.9 L1417.6,1570.6 L1420.9,1569.5 L1424.2,1568.4 L1427.6,1567.3 L1430.9,1566.4 L1434.3,1565.4 L1437.7,1564.6 L1441.1,1563.7 L1444.5,1563 L1447.9,1562.2 L1451.4,1561.5 L1454.8,1560.8 L1458.2,1560.2 L1461.7,1559.6 L1465.1,1559 L1468.6,1558.4 L1472,1557.8 L1475.5,1557.3 L1479,1556.8 L1482.4,1556.2 L1485.9,1555.7 L1489.3,1555.2 L1492.8,1554.7 L1496.3,1554.2 L1499.7,1553.7 L1503.2,1553.1 L1506.7,1552.6 L1510.1,1552.1 L1513.6,1551.5 L1517,1551 L1520.5,1550.4 L1523.9,1549.8 L1527.4,1549.2 L1530.8,1548.6 L1534.3,1547.9 L1537.7,1547.2 L1541.1,1546.5 L1544.6,1545.8 L1548,1545.1 L1551.4,1544.3 L1554.8,1543.5 L1558.2,1542.7 L1561.6,1541.8 L1565,1540.9 L1568.4,1539.9 L1571.7,1539 L1575.1,1537.9 L1578.4,1536.9 L1581.7,1535.7 L1585,1534.5 L1588.3,1533.3 L1591.5,1532.1 L1594.8,1530.7 L1598,1529.4 L1601.2,1528 L1604.4,1526.5 L1607.6,1525 L1610.7,1523.5 L1613.9,1521.9 L1617,1520.3 L1620.1,1518.7 L1623.1,1517 L1626.2,1515.3 L1629.2,1513.6 L1632.3,1511.8 L1635.3,1510.1 L1638.3,1508.3 L1641.3,1506.4 L1644.2,1504.6 L1647.2,1502.7 L1650.2,1500.8 L1653.1,1498.9 L1656,1497 L1659,1495.1 L1661.9,1493.2 L1664.8,1491.2 L1667.7,1489.3 L1670.6,1487.4 L1673.6,1485.4 L1676.5,1483.5 L1679.4,1481.6 L1682.3,1479.6 L1685.2,1477.7 L1688.2,1475.8 L1691.1,1473.9 L1694.1,1472 L1697,1470.2 L1700,1468.3 L1703,1466.5 L1706,1464.7 L1709,1462.9 L1712,1461.1 L1715,1459.3 L1718.1,1457.6 L1721.1,1455.9 L1724.2,1454.2 L1727.2,1452.5 L1730.3,1450.8 L1733.4,1449.1 L1736.5,1447.4 L1739.5,1445.8 L1742.6,1444.1 L1745.7,1442.5 L1748.8,1440.9 L1751.9,1439.3 L1755,1437.6 L1758.2,1436 L1761.3,1434.4 L1764.4,1432.8 L1767.5,1431.2 L1770.6,1429.7 L1773.7,1428.1 L1776.9,1426.5 L1780,1424.9 L1783.1,1423.3 L1786.2,1421.7 L1789.4,1420.2 L1792.5,1418.6 L1795.6,1417 L1798.7,1415.4 L1801.8,1413.8 L1804.9,1412.2 L1808,1410.6 L1811.2,1409 L1814.3,1407.3 L1817.4,1405.7 L1820.5,1404.1 L1823.5,1402.4 L1826.6,1400.8 L1829.7,1399.1 L1832.8,1397.4 L1835.8,1395.7 L1838.9,1394 L1841.9,1392.3 L1845,1390.6 L1848,1388.8 L1851.1,1387.1 L1854.1,1385.3 L1857.1,1383.6 L1860.2,1381.8 L1863.2,1380.1 L1866.2,1378.3 L1869.2,1376.5 L1872.2,1374.8 L1875.3,1373 L1878.3,1371.2 L1881.3,1369.5 L1884.3,1367.7 L1887.4,1365.9 L1890.4,1364.2 L1893.4,1362.4 L1896.5,1360.7 L1899.5,1359 L1902.6,1357.3 L1905.6,1355.6 L1908.7,1353.9 L1911.8,1352.2 L1914.8,1350.5 L1917.9,1348.9 L1921,1347.2 L1924.1,1345.6 L1927.2,1344 L1930.4,1342.4 L1933.5,1340.9 L1936.6,1339.3 L1939.8,1337.8" fill="none" stroke="#BC3C29" stroke-width="3.1" stroke-linejoin="round"/>
<path d="M1177.7,2048.8 L1178.7,2045.5 L1179.8,2042.1 L1180.8,2038.8 L1181.9,2035.4 L1182.9,2032.1 L1184,2028.7 L1185.1,2025.4 L1186.1,2022.1 L1187.2,2018.7 L1188.3,2015.4 L1189.3,2012 L1190.4,2008.7 L1191.5,2005.4 L1192.6,2002 L1193.6,1998.7 L1194.7,1995.4 L1195.8,1992.1 L1196.9,1988.7 L1198,1985.4 L1199.1,1982.1 L1200.2,1978.7 L1201.3,1975.4 L1202.4,1972.1 L1203.5,1968.8 L1204.7,1965.5 L1205.8,1962.1 L1206.9,1958.8 L1208,1955.5 L1209.2,1952.2 L1210.3,1948.9 L1211.5,1945.6 L1212.6,1942.2 L1213.8,1938.9 L1214.9,1935.6 L1216.1,1932.3 L1217.3,1929 L1218.4,1925.7 L1219.6,1922.4 L1220.8,1919.1 L1222,1915.8 L1223.2,1912.5 L1224.4,1909.2 L1225.6,1906 L1226.8,1902.7 L1228,1899.4 L1229.2,1896.1 L1230.5,1892.8 L1231.7,1889.5 L1232.9,1886.3 L1234.2,1883 L1235.4,1879.7 L1236.7,1876.4 L1238,1873.2 L1239.2,1869.9 L1240.5,1866.7 L1241.8,1863.4 L1243.1,1860.1 L1244.4,1856.9 L1245.7,1853.6 L1247,1850.4 L1248.4,1847.1 L1249.7,1843.9 L1251,1840.7 L1252.4,1837.4 L1253.7,1834.2 L1255.1,1831 L1256.4,1827.7 L1257.8,1824.5 L1259.2,1821.3 L1260.6,1818.1 L1262,1814.9 L1263.4,1811.7 L1264.8,1808.5 L1266.3,1805.3 L1267.7,1802.1 L1269.1,1798.9 L1270.6,1795.7 L1272,1792.5 L1273.5,1789.3 L1275,1786.1 L1276.5,1783 L1278,1779.8 L1279.5,1776.6 L1281,1773.5 L1282.5,1770.3 L1284.1,1767.2 L1285.6,1764 L1287.2,1760.9 L1288.8,1757.8 L1290.3,1754.6 L1291.9,1751.5 L1293.5,1748.4 L1295.1,1745.3 L1296.8,1742.2 L1298.4,1739.1 L1300,1736 L1301.7,1732.9 L1303.4,1729.8 L1305.1,1726.7 L1306.7,1723.7 L1308.4,1720.6 L1310.2,1717.6 L1311.9,1714.5 L1313.6,1711.5 L1315.4,1708.4 L1317.2,1705.4 L1318.9,1702.4 L1320.7,1699.4 L1322.6,1696.4 L1324.4,1693.4 L1326.3,1690.5 L1328.2,1687.5 L1330.2,1684.6 L1332.1,1681.7 L1334.2,1678.9 L1336.2,1676 L1338.3,1673.2 L1340.5,1670.5 L1342.7,1667.7 L1344.9,1665.1 L1347.2,1662.4 L1349.6,1659.8 L1352,1657.3 L1354.5,1654.8 L1357,1652.3 L1359.5,1650 L1362.2,1647.6 L1364.9,1645.4 L1367.6,1643.2 L1370.4,1641.1 L1373.2,1639 L1376.1,1637 L1379,1635.1 L1382,1633.3 L1385,1631.5 L1388.1,1629.8 L1391.2,1628.2 L1394.3,1626.6 L1397.5,1625.1 L1400.7,1623.6 L1403.9,1622.2 L1407.1,1620.9 L1410.4,1619.6 L1413.6,1618.3 L1416.9,1617 L1420.2,1615.8 L1423.5,1614.7 L1426.8,1613.5 L1430.1,1612.4 L1433.4,1611.3 L1436.8,1610.2 L1440.1,1609.1 L1443.4,1608 L1446.8,1607 L1450.1,1605.9 L1453.5,1604.9 L1456.8,1603.8 L1460.2,1602.8 L1463.5,1601.7 L1466.8,1600.7 L1470.2,1599.6 L1473.5,1598.5 L1476.9,1597.4 L1480.2,1596.3 L1483.5,1595.2 L1486.8,1594.1 L1490.1,1592.9 L1493.4,1591.7 L1496.7,1590.5 L1500,1589.2 L1503.2,1588 L1506.5,1586.7 L1509.7,1585.3 L1513,1584 L1516.2,1582.6 L1519.4,1581.2 L1522.6,1579.7 L1525.7,1578.2 L1528.9,1576.7 L1532,1575.1 L1535.2,1573.6 L1538.3,1572 L1541.4,1570.3 L1544.5,1568.6 L1547.5,1567 L1550.6,1565.2 L1553.6,1563.5 L1556.6,1561.7 L1559.6,1559.9 L1562.6,1558.1 L1565.6,1556.3 L1568.6,1554.4 L1571.6,1552.5 L1574.5,1550.6 L1577.4,1548.7 L1580.4,1546.8 L1583.3,1544.9 L1586.2,1542.9 L1589.1,1540.9 L1592,1538.9 L1594.8,1536.9 L1597.7,1534.9 L1600.6,1532.9 L1603.4,1530.9 L1606.3,1528.9 L1609.1,1526.8 L1612,1524.8 L1614.8,1522.7 L1617.7,1520.7 L1620.5,1518.6 L1623.3,1516.5 L1626.2,1514.5 L1629,1512.4 L1631.8,1510.4 L1634.7,1508.3 L1637.5,1506.2 L1640.3,1504.2 L1643.2,1502.1 L1646,1500.1 L1648.9,1498.1 L1651.8,1496 L1654.6,1494 L1657.5,1492 L1660.4,1490 L1663.3,1488 L1666.1,1486.1 L1669,1484.1 L1671.9,1482.1 L1674.9,1480.2 L1677.8,1478.2 L1680.7,1476.3 L1683.6,1474.4 L1686.6,1472.4 L1689.5,1470.5 L1692.4,1468.6 L1695.4,1466.7 L1698.3,1464.9 L1701.3,1463 L1704.2,1461.1 L1707.2,1459.2 L1710.2,1457.4 L1713.2,1455.5 L1716.1,1453.7 L1719.1,1451.8 L1722.1,1450 L1725.1,1448.2 L1728.1,1446.4 L1731.1,1444.5 L1734.1,1442.7 L1737.1,1440.9 L1740.1,1439.1 L1743.1,1437.3 L1746.1,1435.5 L1749.1,1433.7 L1752.1,1432 L1755.2,1430.2 L1758.2,1428.4 L1761.2,1426.6 L1764.2,1424.9 L1767.3,1423.1 L1770.3,1421.3 L1773.3,1419.6 L1776.3,1417.8 L1779.4,1416.1 L1782.4,1414.3 L1785.4,1412.6 L1788.5,1410.8 L1791.5,1409.1 L1794.6,1407.3 L1797.6,1405.6 L1800.6,1403.8 L1803.7,1402.1 L1806.7,1400.4 L1809.8,1398.6 L1812.8,1396.9 L1815.9,1395.1 L1818.9,1393.4 L1821.9,1391.7 L1825,1389.9 L1828,1388.2 L1831.1,1386.5 L1834.1,1384.7 L1837.2,1383 L1840.2,1381.3 L1843.2,1379.5 L1846.3,1377.8 L1849.3,1376 L1852.4,1374.3 L1855.4,1372.5 L1858.4,1370.8 L1861.5,1369 L1864.5,1367.3 L1867.5,1365.5 L1870.6,1363.8 L1873.6,1362 L1876.6,1360.2 L1879.6,1358.5 L1882.7,1356.7 L1885.7,1354.9 L1888.7,1353.1 L1891.7,1351.4 L1894.7,1349.6 L1897.8,1347.8 L1900.8,1346 L1903.8,1344.2 L1906.8,1342.4 L1909.8,1340.6" fill="none" stroke="#0072B5" stroke-width="3.1" stroke-linejoin="round"/>
<path d="M1177.5,2068.1 L1178.7,2064.8 L1179.8,2061.5 L1181,2058.2 L1182.2,2054.9 L1183.3,2051.6 L1184.5,2048.3 L1185.7,2045 L1186.9,2041.7 L1188.1,2038.4 L1189.2,2035.1 L1190.4,2031.8 L1191.6,2028.5 L1192.8,2025.2 L1194,2021.9 L1195.2,2018.6 L1196.4,2015.4 L1197.5,2012.1 L1198.7,2008.8 L1199.9,2005.5 L1201.1,2002.2 L1202.3,1998.9 L1203.5,1995.6 L1204.7,1992.3 L1205.9,1989 L1207.2,1985.8 L1208.4,1982.5 L1209.6,1979.2 L1210.8,1975.9 L1212,1972.6 L1213.2,1969.3 L1214.5,1966.1 L1215.7,1962.8 L1216.9,1959.5 L1218.2,1956.2 L1219.4,1953 L1220.6,1949.7 L1221.9,1946.4 L1223.1,1943.1 L1224.4,1939.9 L1225.6,1936.6 L1226.9,1933.3 L1228.1,1930.1 L1229.4,1926.8 L1230.6,1923.5 L1231.9,1920.3 L1233.2,1917 L1234.4,1913.7 L1235.7,1910.5 L1237,1907.2 L1238.3,1904 L1239.6,1900.7 L1240.9,1897.5 L1242.1,1894.2 L1243.4,1891 L1244.7,1887.7 L1246,1884.5 L1247.4,1881.2 L1248.7,1878 L1250,1874.7 L1251.3,1871.5 L1252.6,1868.2 L1254,1865 L1255.3,1861.8 L1256.6,1858.5 L1258,1855.3 L1259.3,1852.1 L1260.7,1848.8 L1262,1845.6 L1263.4,1842.4 L1264.8,1839.2 L1266.1,1835.9 L1267.5,1832.7 L1268.9,1829.5 L1270.3,1826.3 L1271.7,1823.1 L1273,1819.9 L1274.4,1816.7 L1275.9,1813.5 L1277.3,1810.3 L1278.7,1807.1 L1280.1,1803.9 L1281.6,1800.7 L1283,1797.5 L1284.5,1794.3 L1285.9,1791.1 L1287.4,1787.9 L1288.9,1784.8 L1290.4,1781.6 L1291.9,1778.4 L1293.4,1775.3 L1294.9,1772.1 L1296.5,1769 L1298,1765.9 L1299.6,1762.7 L1301.2,1759.6 L1302.8,1756.5 L1304.4,1753.4 L1306.1,1750.3 L1307.8,1747.2 L1309.4,1744.2 L1311.1,1741.1 L1312.8,1738.1 L1314.6,1735 L1316.3,1732 L1318.1,1729 L1319.9,1726 L1321.7,1723 L1323.6,1720 L1325.5,1717.1 L1327.4,1714.1 L1329.3,1711.2 L1331.2,1708.3 L1333.2,1705.4 L1335.2,1702.5 L1337.2,1699.7 L1339.3,1696.8 L1341.4,1694 L1343.5,1691.2 L1345.6,1688.5 L1347.8,1685.7 L1350,1683 L1352.2,1680.3 L1354.5,1677.6 L1356.8,1675 L1359.1,1672.3 L1361.4,1669.7 L1363.8,1667.2 L1366.2,1664.6 L1368.6,1662.1 L1371.1,1659.6 L1373.5,1657.1 L1376,1654.7 L1378.5,1652.2 L1381.1,1649.8 L1383.6,1647.4 L1386.2,1645.1 L1388.8,1642.7 L1391.4,1640.4 L1394.1,1638.1 L1396.7,1635.8 L1399.4,1633.5 L1402.1,1631.3 L1404.8,1629.1 L1407.5,1626.9 L1410.2,1624.7 L1413,1622.5 L1415.7,1620.4 L1418.5,1618.2 L1421.3,1616.1 L1424.1,1614 L1426.9,1611.9 L1429.7,1609.8 L1432.5,1607.7 L1435.4,1605.7 L1438.2,1603.6 L1441,1601.6 L1443.9,1599.6 L1446.8,1597.5 L1449.6,1595.5 L1452.5,1593.5 L1455.4,1591.6 L1458.3,1589.6 L1461.2,1587.6 L1464.1,1585.6 L1467,1583.7 L1469.9,1581.7 L1472.8,1579.8 L1475.7,1577.8 L1478.6,1575.9 L1481.5,1573.9 L1484.4,1572 L1487.3,1570.1 L1490.3,1568.1 L1493.2,1566.2 L1496.1,1564.3 L1499,1562.3 L1501.9,1560.4 L1504.9,1558.5 L1507.8,1556.5 L1510.7,1554.6 L1513.6,1552.7 L1516.5,1550.7 L1519.5,1548.8 L1522.4,1546.9 L1525.3,1544.9 L1528.2,1543 L1531.1,1541 L1534,1539.1 L1536.9,1537.1 L1539.8,1535.2 L1542.7,1533.2 L1545.6,1531.2 L1548.5,1529.2 L1551.4,1527.3 L1554.2,1525.3 L1557.1,1523.3 L1560,1521.3 L1562.8,1519.2 L1565.7,1517.2 L1568.5,1515.2 L1571.4,1513.1 L1574.2,1511.1 L1577.1,1509 L1579.9,1507 L1582.7,1504.9 L1585.6,1502.9 L1588.4,1500.8 L1591.2,1498.7 L1594,1496.6 L1596.8,1494.6 L1599.6,1492.5 L1602.5,1490.4 L1605.3,1488.3 L1608.1,1486.2 L1610.9,1484.2 L1613.7,1482.1 L1616.5,1480 L1619.4,1477.9 L1622.2,1475.9 L1625,1473.8 L1627.8,1471.7 L1630.7,1469.7 L1633.5,1467.6 L1636.3,1465.6 L1639.2,1463.5 L1642,1461.5 L1644.9,1459.4 L1647.7,1457.4 L1650.6,1455.4 L1653.5,1453.4 L1656.3,1451.4 L1659.2,1449.4 L1662.1,1447.4 L1665,1445.5 L1667.9,1443.5 L1670.8,1441.6 L1673.7,1439.6 L1676.6,1437.7 L1679.6,1435.8 L1682.5,1433.9 L1685.5,1432 L1688.4,1430.1 L1691.4,1428.3 L1694.4,1426.4 L1697.3,1424.6 L1700.3,1422.8 L1703.3,1420.9 L1706.3,1419.1 L1709.3,1417.4 L1712.3,1415.6 L1715.4,1413.8 L1718.4,1412.1 L1721.5,1410.3 L1724.5,1408.6 L1727.6,1406.9 L1730.6,1405.2 L1733.7,1403.6 L1736.8,1401.9 L1739.9,1400.2 L1743,1398.6 L1746.1,1397 L1749.2,1395.4 L1752.3,1393.8 L1755.4,1392.2 L1758.6,1390.7 L1761.7,1389.2 L1764.9,1387.6 L1768,1386.1 L1771.2,1384.6 L1774.4,1383.2 L1777.5,1381.7 L1780.7,1380.3 L1783.9,1378.8 L1787.1,1377.4 L1790.3,1376 L1793.6,1374.6 L1796.8,1373.3 L1800,1371.9 L1803.3,1370.6 L1806.5,1369.3 L1809.8,1368 L1813,1366.7 L1816.3,1365.5 L1819.6,1364.2 L1822.8,1363 L1826.1,1361.8 L1829.4,1360.6 L1832.7,1359.5 L1836,1358.3 L1839.3,1357.2 L1842.7,1356 L1846,1354.9 L1849.3,1353.9 L1852.6,1352.8 L1856,1351.8 L1859.3,1350.7 L1862.7,1349.7 L1866,1348.7 L1869.4,1347.7 L1872.8,1346.8 L1876.1,1345.8 L1879.5,1344.9 L1882.9,1344 L1886.3,1343.1 L1889.7,1342.3 L1893.1,1341.4 L1896.5,1340.6 L1899.9,1339.7 L1903.3,1338.9 L1906.7,1338.2 L1910.1,1337.4" fill="none" stroke="#E18727" stroke-width="3.1" stroke-linejoin="round"/>
<path d="M1177.7,2092.8 L1179,2089.5 L1180.3,2086.3 L1181.6,2083 L1182.9,2079.8 L1184.2,2076.5 L1185.5,2073.3 L1186.8,2070 L1188,2066.8 L1189.3,2063.5 L1190.6,2060.2 L1191.9,2057 L1193.2,2053.7 L1194.5,2050.5 L1195.7,2047.2 L1197,2043.9 L1198.3,2040.7 L1199.6,2037.4 L1200.8,2034.1 L1202.1,2030.9 L1203.4,2027.6 L1204.7,2024.3 L1205.9,2021.1 L1207.2,2017.8 L1208.5,2014.6 L1209.7,2011.3 L1211,2008 L1212.3,2004.8 L1213.5,2001.5 L1214.8,1998.2 L1216.1,1995 L1217.4,1991.7 L1218.6,1988.4 L1219.9,1985.2 L1221.2,1981.9 L1222.5,1978.7 L1223.7,1975.4 L1225,1972.1 L1226.3,1968.9 L1227.6,1965.6 L1228.8,1962.3 L1230.1,1959.1 L1231.4,1955.8 L1232.7,1952.6 L1234,1949.3 L1235.3,1946 L1236.6,1942.8 L1237.9,1939.5 L1239.1,1936.3 L1240.4,1933 L1241.7,1929.8 L1243,1926.5 L1244.3,1923.3 L1245.7,1920 L1247,1916.8 L1248.3,1913.5 L1249.6,1910.3 L1250.9,1907 L1252.2,1903.8 L1253.6,1900.5 L1254.9,1897.3 L1256.2,1894.1 L1257.6,1890.8 L1258.9,1887.6 L1260.2,1884.4 L1261.6,1881.1 L1262.9,1877.9 L1264.3,1874.7 L1265.7,1871.4 L1267,1868.2 L1268.4,1865 L1269.8,1861.8 L1271.1,1858.5 L1272.5,1855.3 L1273.9,1852.1 L1275.3,1848.9 L1276.7,1845.7 L1278.1,1842.5 L1279.5,1839.3 L1280.9,1836 L1282.3,1832.8 L1283.8,1829.6 L1285.2,1826.4 L1286.6,1823.3 L1288.1,1820.1 L1289.5,1816.9 L1291,1813.7 L1292.4,1810.5 L1293.9,1807.3 L1295.4,1804.1 L1296.9,1801 L1298.3,1797.8 L1299.8,1794.6 L1301.3,1791.5 L1302.8,1788.3 L1304.4,1785.1 L1305.9,1782 L1307.4,1778.8 L1309,1775.7 L1310.5,1772.5 L1312.1,1769.4 L1313.6,1766.3 L1315.2,1763.1 L1316.8,1760 L1318.3,1756.9 L1319.9,1753.8 L1321.5,1750.7 L1323.2,1747.5 L1324.8,1744.4 L1326.4,1741.3 L1328.1,1738.2 L1329.7,1735.2 L1331.4,1732.1 L1333,1729 L1334.7,1725.9 L1336.4,1722.8 L1338.1,1719.8 L1339.8,1716.7 L1341.5,1713.7 L1343.2,1710.6 L1345,1707.6 L1346.7,1704.5 L1348.5,1701.5 L1350.2,1698.5 L1352,1695.5 L1353.8,1692.5 L1355.6,1689.5 L1357.4,1686.5 L1359.3,1683.5 L1361.1,1680.5 L1362.9,1677.5 L1364.8,1674.5 L1366.7,1671.6 L1368.6,1668.6 L1370.4,1665.7 L1372.4,1662.7 L1374.3,1659.8 L1376.2,1656.9 L1378.1,1654 L1380.1,1651.1 L1382.1,1648.2 L1384.1,1645.3 L1386,1642.4 L1388.1,1639.5 L1390.1,1636.7 L1392.1,1633.8 L1394.2,1631 L1396.2,1628.1 L1398.3,1625.3 L1400.4,1622.5 L1402.5,1619.7 L1404.6,1616.9 L1406.7,1614.1 L1408.9,1611.4 L1411,1608.6 L1413.2,1605.8 L1415.4,1603.1 L1417.6,1600.4 L1419.8,1597.7 L1422,1595 L1424.3,1592.3 L1426.5,1589.6 L1428.8,1586.9 L1431.1,1584.3 L1433.4,1581.6 L1435.7,1579 L1438.1,1576.4 L1440.4,1573.8 L1442.8,1571.2 L1445.1,1568.7 L1447.5,1566.1 L1449.9,1563.5 L1452.4,1561 L1454.8,1558.5 L1457.3,1556 L1459.7,1553.5 L1462.2,1551.1 L1464.7,1548.6 L1467.2,1546.2 L1469.8,1543.7 L1472.3,1541.3 L1474.9,1538.9 L1477.5,1536.6 L1480,1534.2 L1482.7,1531.9 L1485.3,1529.6 L1487.9,1527.3 L1490.6,1525 L1493.2,1522.7 L1495.9,1520.4 L1498.6,1518.2 L1501.3,1516 L1504,1513.8 L1506.7,1511.5 L1509.5,1509.3 L1512.2,1507.2 L1514.9,1505 L1517.7,1502.8 L1520.4,1500.6 L1523.2,1498.5 L1525.9,1496.3 L1528.7,1494.1 L1531.5,1492 L1534.2,1489.8 L1537,1487.6 L1539.7,1485.5 L1542.5,1483.3 L1545.2,1481.1 L1547.9,1478.9 L1550.7,1476.7 L1553.4,1474.5 L1556.1,1472.3 L1558.8,1470.1 L1561.5,1467.9 L1564.3,1465.7 L1567,1463.5 L1569.7,1461.3 L1572.4,1459.1 L1575.2,1456.9 L1577.9,1454.7 L1580.7,1452.6 L1583.4,1450.4 L1586.2,1448.3 L1589,1446.1 L1591.8,1444 L1594.6,1441.9 L1597.4,1439.8 L1600.2,1437.7 L1603,1435.7 L1605.9,1433.6 L1608.7,1431.6 L1611.6,1429.6 L1614.5,1427.6 L1617.4,1425.6 L1620.3,1423.6 L1623.2,1421.7 L1626.1,1419.7 L1629,1417.8 L1632,1415.9 L1634.9,1414 L1637.9,1412.2 L1640.9,1410.3 L1643.9,1408.5 L1646.9,1406.7 L1649.9,1404.9 L1652.9,1403.1 L1655.9,1401.4 L1659,1399.6 L1662,1397.9 L1665.1,1396.2 L1668.2,1394.6 L1671.2,1392.9 L1674.3,1391.3 L1677.5,1389.7 L1680.6,1388.1 L1683.7,1386.5 L1686.8,1384.9 L1690,1383.4 L1693.2,1381.9 L1696.3,1380.4 L1699.5,1379 L1702.7,1377.5 L1705.9,1376.1 L1709.1,1374.7 L1712.4,1373.4 L1715.6,1372 L1718.8,1370.7 L1722.1,1369.4 L1725.4,1368.2 L1728.6,1366.9 L1731.9,1365.7 L1735.2,1364.5 L1738.5,1363.4 L1741.9,1362.3 L1745.2,1361.2 L1748.5,1360.1 L1751.9,1359.1 L1755.2,1358.1 L1758.6,1357.2 L1762,1356.2 L1765.4,1355.3 L1768.8,1354.4 L1772.2,1353.6 L1775.6,1352.8 L1779,1352 L1782.4,1351.3 L1785.8,1350.6 L1789.3,1349.9 L1792.7,1349.2 L1796.2,1348.6 L1799.6,1348 L1803.1,1347.4 L1806.5,1346.9 L1810,1346.4 L1813.5,1346 L1817,1345.5 L1820.4,1345.1 L1823.9,1344.7 L1827.4,1344.4 L1830.9,1344.1 L1834.4,1343.8 L1837.9,1343.5 L1841.4,1343.3 L1844.9,1343.1 L1848.4,1342.9 L1851.9,1342.8 L1855.4,1342.7 L1858.9,1342.6 L1862.4,1342.5 L1865.9,1342.5 L1869.4,1342.5 L1872.9,1342.5 L1876.4,1342.5 L1879.9,1342.6 L1883.4,1342.7 L1886.9,1342.8 L1890.4,1342.9 L1893.9,1343.1 L1897.4,1343.3 L1900.9,1343.5 L1904.4,1343.7 L1907.9,1344 L1911.4,1344.3 L1914.9,1344.6 L1918.3,1344.9 L1921.8,1345.2 L1925.3,1345.6 L1928.8,1346 L1932.3,1346.4 L1935.8,1346.8 L1939.2,1347.3 L1942.7,1347.7 L1946.2,1348.2 L1949.6,1348.7" fill="none" stroke="#20854E" stroke-width="3.1" stroke-linejoin="round"/>
<rect x="1139" y="1297.7" width="849.2" height="867.7" fill="none" stroke="#333" stroke-width="1.5"/>
<line x1="1177.5" y1="2165.4" x2="1177.5" y2="2170" stroke="#333" stroke-width="1.5"/>
<text x="1184.9" y="2187.3" font-size="24.2" font-weight="bold" text-anchor="middle">0.00</text>
<line x1="1134.2" y1="2125.9" x2="1139" y2="2125.9" stroke="#333" stroke-width="1.5"/>
<text x="1127.2" y="2132.5" font-size="24.2" font-weight="bold" text-anchor="end">0.00</text>
<line x1="1370.65" y1="2165.4" x2="1370.65" y2="2170" stroke="#333" stroke-width="1.5"/>
<text x="1378.05" y="2187.3" font-size="24.2" font-weight="bold" text-anchor="middle">0.25</text>
<line x1="1134.2" y1="1928.7" x2="1139" y2="1928.7" stroke="#333" stroke-width="1.5"/>
<text x="1127.2" y="1935.3" font-size="24.2" font-weight="bold" text-anchor="end">0.25</text>
<line x1="1563.8" y1="2165.4" x2="1563.8" y2="2170" stroke="#333" stroke-width="1.5"/>
<text x="1571.2" y="2187.3" font-size="24.2" font-weight="bold" text-anchor="middle">0.50</text>
<line x1="1134.2" y1="1731.5" x2="1139" y2="1731.5" stroke="#333" stroke-width="1.5"/>
<text x="1127.2" y="1738.1" font-size="24.2" font-weight="bold" text-anchor="end">0.50</text>
<line x1="1756.95" y1="2165.4" x2="1756.95" y2="2170" stroke="#333" stroke-width="1.5"/>
<text x="1764.35" y="2187.3" font-size="24.2" font-weight="bold" text-anchor="middle">0.75</text>
<line x1="1134.2" y1="1534.3" x2="1139" y2="1534.3" stroke="#333" stroke-width="1.5"/>
<text x="1127.2" y="1540.9" font-size="24.2" font-weight="bold" text-anchor="end">0.75</text>
<line x1="1950.1" y1="2165.4" x2="1950.1" y2="2170" stroke="#333" stroke-width="1.5"/>
<text x="1957.5" y="2187.3" font-size="24.2" font-weight="bold" text-anchor="middle">1.00</text>
<line x1="1134.2" y1="1337.1" x2="1139" y2="1337.1" stroke="#333" stroke-width="1.5"/>
<text x="1127.2" y="1343.7" font-size="24.2" font-weight="bold" text-anchor="end">1.00</text>
<text x="1569.4" y="2232.5" font-size="24.2" font-weight="bold" text-anchor="middle">False positive rate</text>
<text transform="translate(1051.1 1728.2) rotate(-90)" font-size="24.2" font-weight="bold" text-anchor="middle">True positive rate</text>
<text x="1651.6" y="1937.0" font-size="24.1" fill="#BC3C29">AUC at 1 year = 0.746</text>
<text x="1651.6" y="1976.3" font-size="24.1" fill="#0072B5">AUC at 3 year = 0.716</text>
<text x="1651.6" y="2015.6" font-size="24.1" fill="#E18727">AUC at 5 year = 0.729</text>
<text x="1651.6" y="2054.9" font-size="24.1" fill="#20854E">AUC at 7 year = 0.745</text>
</g>
</svg>
</body></html>
